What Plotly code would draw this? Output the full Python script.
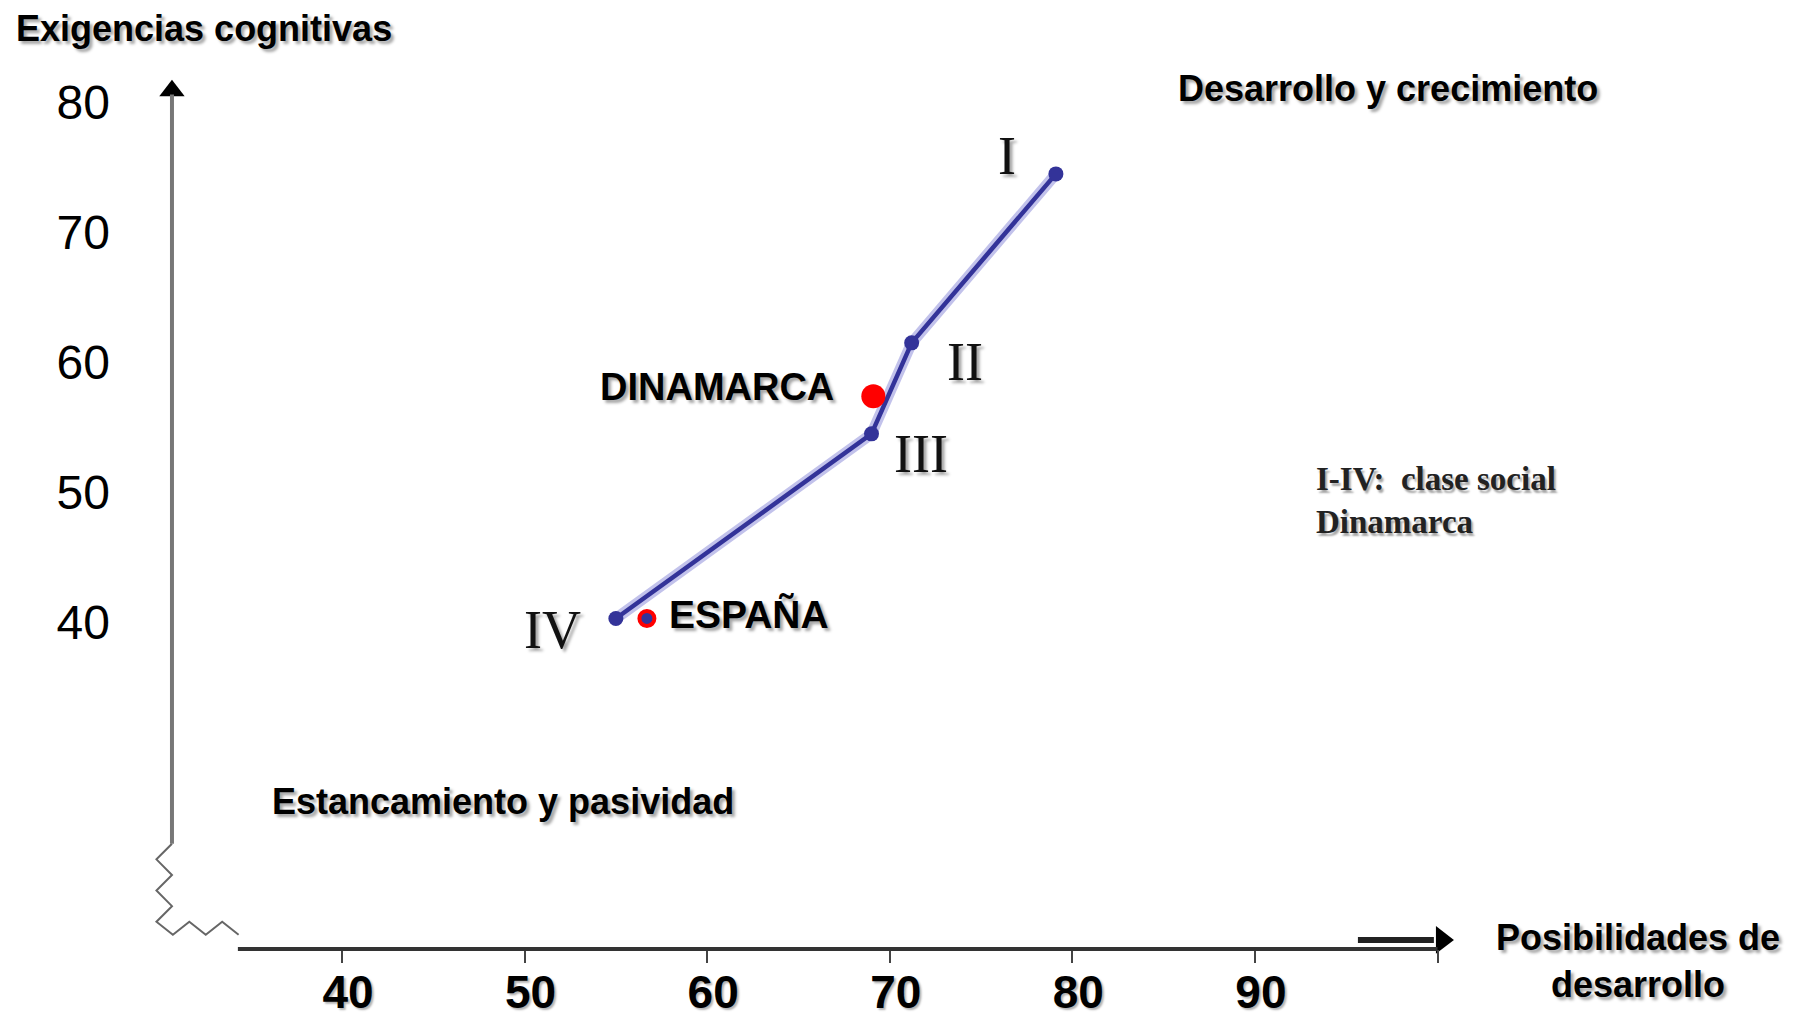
import plotly.graph_objects as go

# clase social en Dinamarca (I-IV)
clase_labels = ["IV", "III", "II", "I"]
clase_x = [55.0, 69.0, 71.2, 79.1]   # posibilidades de desarrollo
clase_y = [40.3, 54.5, 61.5, 74.5]   # exigencias cognitivas

# media por país
pais_labels = ["DINAMARCA", "ESPAÑA"]
pais_x = [69.1, 56.7]
pais_y = [57.4, 40.3]

x_ticks = [40, 50, 60, 70, 80, 90, 100]
x_ticktext = ["40", "50", "60", "70", "80", "90", ""]
y_ticks = [40, 50, 60, 70, 80]
y_ticktext = ["40", "50", "60", "70", "80"]

SANS = "Liberation Sans, Arial, sans-serif"
SERIF = "Liberation Serif, Times New Roman, serif"
SHADOW = "3px 3px 3px rgba(0,0,0,0.35)"

# axis ranges
X_RANGE = [21.71, 120.07]
Y_RANGE = [9.72, 87.26]

# where the drawn axes sit (data units)
YAX_X = 30.69
XAX_Y = 14.88
XAX_X0, XAX_X1 = 34.3, 100.0
YAX_Y0, YAX_Y1 = 22.97, 80.6

fig = go.Figure()

# soft halo under the class line
fig.add_trace(go.Scatter(x=clase_x, y=clase_y, mode="lines",
                         line=dict(color="rgba(120,120,210,0.45)", width=11),
                         hoverinfo="skip", showlegend=False))
fig.add_trace(go.Scatter(x=clase_x, y=clase_y, mode="lines+markers",
                         line=dict(color="#333399", width=4.5),
                         marker=dict(size=15, color="#333399"),
                         text=clase_labels, showlegend=False))

# países
fig.add_trace(go.Scatter(x=[pais_x[0]], y=[pais_y[0]], mode="markers",
                         marker=dict(size=24, color="#ff0000"),
                         showlegend=False))
fig.add_trace(go.Scatter(x=[pais_x[1]], y=[pais_y[1]], mode="markers",
                         marker=dict(size=15, color="#333399",
                                     line=dict(color="#ff0000", width=4)),
                         showlegend=False))

# axis break zigzag (vertical then horizontal)
zx, zy = [], []
for i in range(6):
    zx.append(YAX_X if i % 2 == 0 else YAX_X - 0.85)
    zy.append(YAX_Y0 - i * 1.2)
for i in range(5):
    zx.append(YAX_X + 0.05 + i * 0.9)
    zy.append(zy[5] - 1.0 if i % 2 == 0 else zy[5])
fig.add_trace(go.Scatter(x=zx, y=zy, mode="lines",
                         line=dict(color="#666666", width=2),
                         hoverinfo="skip", showlegend=False))

# arrow heads
fig.add_trace(go.Scatter(x=[YAX_X], y=[YAX_Y1 + 0.3], mode="markers",
                         marker=dict(symbol="triangle-up", size=22, color="black"),
                         hoverinfo="skip", showlegend=False))
fig.add_trace(go.Scatter(x=[100.24], y=[15.57], mode="markers",
                         marker=dict(symbol="triangle-right", size=24, color="black"),
                         hoverinfo="skip", showlegend=False))

shapes = [
    dict(type="line", x0=YAX_X, x1=YAX_X, y0=YAX_Y0, y1=YAX_Y1,
         line=dict(color="#777777", width=4)),
    dict(type="line", x0=XAX_X0, x1=XAX_X1, y0=XAX_Y, y1=XAX_Y,
         line=dict(color="#333333", width=4)),
    dict(type="line", x0=95.64, x1=99.8, y0=15.57, y1=15.57,
         line=dict(color="#222222", width=6)),
]

annotations = []
# roman numerals next to each class point
num_shift = {"I": (-49, 18), "II": (53, -19), "III": (50, -20), "IV": (-63, -12)}
for lab, x, y in zip(clase_labels, clase_x, clase_y):
    dx, dy = num_shift[lab]
    annotations.append(dict(x=x, y=y, text=lab, showarrow=False,
                            xshift=dx, yshift=dy,
                            font=dict(family=SERIF, size=54, color="#111",
                                      shadow=SHADOW)))
annotations.append(dict(x=pais_x[0], y=pais_y[0], text=pais_labels[0],
                        showarrow=False, xanchor="right", xshift=-37, yshift=9,
                        font=dict(family=SANS, size=38, color="black",
                                  weight="bold", shadow=SHADOW)))
annotations.append(dict(x=pais_x[1], y=pais_y[1], text=pais_labels[1],
                        showarrow=False, xanchor="left", xshift=20, yshift=4,
                        font=dict(family=SANS, size=39, color="black",
                                  weight="bold", shadow=SHADOW)))

bold = dict(family=SANS, size=36, color="black", weight="bold", shadow=SHADOW)
annotations += [
    dict(x=22.04, y=85.65, text="Exigencias cognitivas", xanchor="left",
         showarrow=False, font=bold),
    dict(x=85.67, y=81.03, text="Desarrollo y crecimiento", xanchor="left",
         showarrow=False, font=bold),
    dict(x=36.06, y=26.2, text="Estancamiento y pasividad", xanchor="left",
         showarrow=False, font=bold),
    dict(x=110.98, y=13.92, text="Posibilidades de<br>desarrollo",
         xanchor="center", align="center", showarrow=False, font=bold),
    dict(x=93.23, y=49.34, text="I-IV:  clase social<br>Dinamarca",
         xanchor="left", align="left", showarrow=False,
         font=dict(family=SERIF, size=33, color="#222", weight="bold",
                   shadow="2px 3px 2px rgba(0,0,0,0.35)")),
]

# x axis ticks sit on the drawn axis line
xax_pos = (XAX_Y - Y_RANGE[0]) / (Y_RANGE[1] - Y_RANGE[0])
yax_pos = (YAX_X - X_RANGE[0]) / (X_RANGE[1] - X_RANGE[0])

# the page adds an 8px body margin, so the figure is drawn 8px smaller
fig.update_layout(
    width=1796, height=1008,
    margin=dict(l=0, r=0, t=0, b=0),
    paper_bgcolor="white", plot_bgcolor="white",
    shapes=shapes, annotations=annotations,
    showlegend=False,
    xaxis=dict(range=X_RANGE, showgrid=False, zeroline=False,
               showline=False, tickvals=x_ticks, ticktext=x_ticktext,
               ticks="outside", ticklen=13, tickwidth=2, tickcolor="#444",
               anchor="free", position=xax_pos, automargin=False,
               ticklabelshift=6, ticklabelstandoff=-10,
               tickfont=dict(family=SANS, size=46, color="black",
                             weight="bold", shadow="2px 2px 2px rgba(0,0,0,0.3)"),
               fixedrange=True),
    yaxis=dict(range=Y_RANGE, showgrid=False, zeroline=False,
               showline=False, tickvals=y_ticks, ticktext=y_ticktext,
               ticks="", anchor="free", position=yax_pos, automargin=False,
               ticklabelstandoff=62,
               tickfont=dict(family=SANS, size=48, color="black"),
               fixedrange=True),
)

fig.write_html("out.html")
